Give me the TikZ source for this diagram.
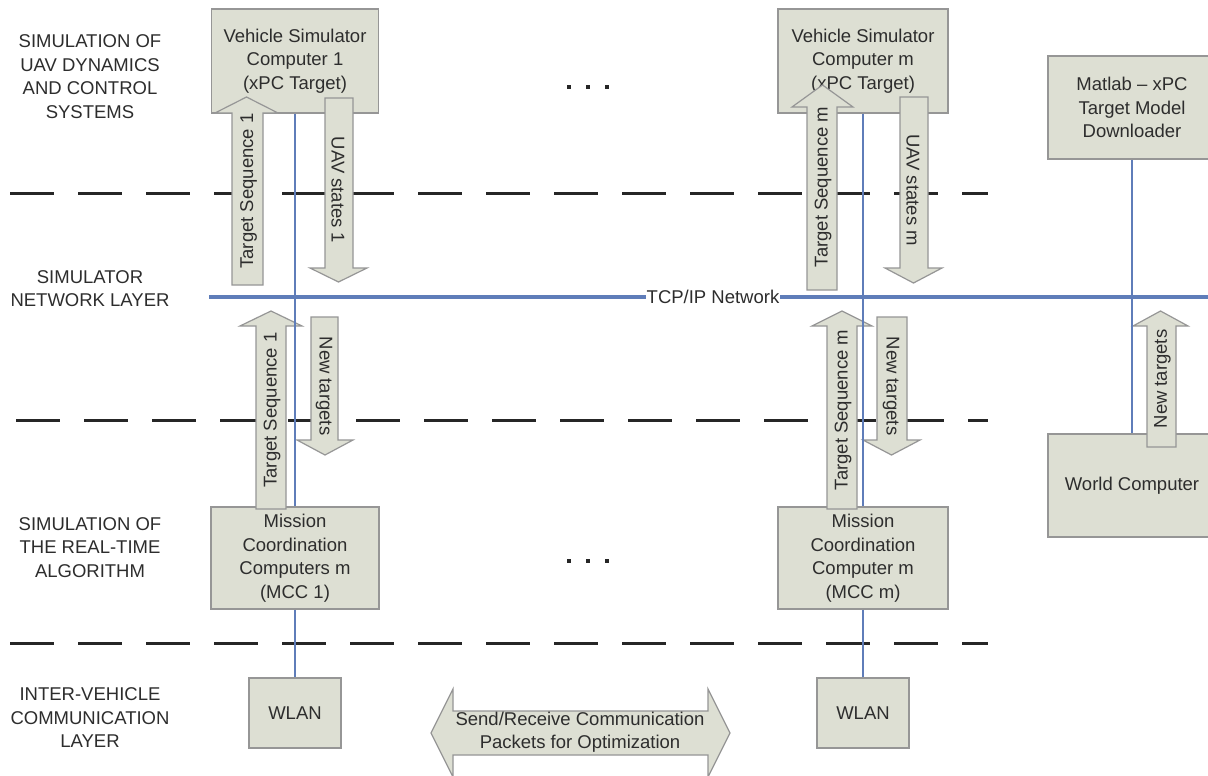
\documentclass[tikz,border=0pt]{standalone}
\usepackage{fontspec}
\setmainfont{Liberation Sans}
\definecolor{boxfill}{RGB}{221,223,211}
\definecolor{boxline}{RGB}{150,150,150}
\definecolor{netblue}{RGB}{95,125,185}
\definecolor{txt}{RGB}{45,45,45}
\newcommand{\blkarrow}[7]{\draw[blk] (#1,#5) -- (#1,#6) -- (#3,#6) -- ({(#3+#4)/2},#7) -- (#4,#6) -- (#2,#6) -- (#2,#5) -- cycle;}
\begin{document}
\begin{tikzpicture}[x=1pt,y=-1pt,
  font=\fontsize{18.5}{23.5}\selectfont, text=txt,
  box/.style={draw=boxline, fill=boxfill, line width=1.2pt, align=center, inner sep=0pt},
  blk/.style={draw=boxline, fill=boxfill, line width=1.2pt},
  layer/.style={align=center, inner sep=0pt},
  sepline/.style={line width=3pt, dash pattern=on 44pt off 24pt, draw=black!85},
  net/.style={draw=netblue, line width=2.5pt},
  arrtext/.style={inner sep=0pt},
  dot/.style={fill=black!85}]
\clip (0,0) rectangle (1208,776);
\fill[white] (0,0) rectangle (1208,776);

% layer separators
\coordinate (s1a) at (10,193);  \coordinate (s1b) at (988,193);
\coordinate (s2a) at (16,420);  \coordinate (s2b) at (988,420);
\coordinate (s3a) at (10,643);  \coordinate (s3b) at (988,643);
\draw[sepline] (s1a) -- (s1b);
\draw[sepline] (s2a) -- (s2b);
\draw[sepline] (s3a) -- (s3b);

% layer labels
\node[layer] (lab1) at (90,76.5) {SIMULATION OF\\UAV DYNAMICS\\AND CONTROL\\SYSTEMS};
\node[layer] (lab2) at (90,288.5) {SIMULATOR\\NETWORK LAYER};
\node[layer] (lab3) at (90,547.5) {SIMULATION OF\\THE REAL-TIME\\ALGORITHM};
\node[layer] (lab4) at (90,718) {INTER-VEHICLE\\COMMUNICATION\\LAYER};

% boxes
\node[box, minimum width=167pt, minimum height=104pt] (vs1) at (295,61) {Vehicle Simulator\\Computer 1\\(xPC Target)};
\node[box, minimum width=170pt, minimum height=104pt] (vsm) at (863,61) {Vehicle Simulator\\Computer m\\(xPC Target)};
\node[box, minimum width=168pt, minimum height=103pt] (matlab) at (1132,107.5) {Matlab -- xPC\\Target Model\\Downloader};
\node[box, minimum width=168pt, minimum height=103pt] (world) at (1132,485.5) {World Computer};
\node[box, minimum width=168pt, minimum height=102pt] (mcc1) at (295,558) {Mission\\Coordination\\Computers m\\(MCC 1)};
\node[box, minimum width=170pt, minimum height=102pt] (mccm) at (863,558) {Mission\\Coordination\\Computer m\\(MCC m)};
\node[box, minimum width=92pt, minimum height=70pt] (wlan1) at (295,713) {WLAN};
\node[box, minimum width=92pt, minimum height=70pt] (wlanm) at (863,713) {WLAN};

% dots
\foreach \xx in {569,588,607} {
  \fill[dot] (\xx-2,85) rectangle (\xx+2,89);
  \fill[dot] (\xx-2,559) rectangle (\xx+2,563);
}

% block arrows
\blkarrow{232}{263}{215}{278}{285}{113}{97}
\blkarrow{325}{353}{310}{367}{98}{268}{282}
\blkarrow{256}{286}{240}{302}{509}{326}{311}
\blkarrow{311}{338}{297}{353}{317}{440}{455}
\blkarrow{807}{837}{792}{853}{290}{107}{85}
\blkarrow{900}{928}{885}{942}{97}{268}{283}
\blkarrow{827}{857}{812}{872}{509}{326}{311}
\blkarrow{877}{907}{863}{920}{317}{440}{455}
\blkarrow{1147}{1176}{1133}{1188}{447}{326}{311}
\draw[blk] (431,733) -- (453,689) -- (453,711) -- (708,711) -- (708,689) -- (730,733)
  -- (708,777) -- (708,755) -- (453,755) -- (453,777) -- cycle;

% arrow texts
\node[arrtext, rotate=90] (ts1a) at (248.5,191) {Target Sequence 1};
\node[arrtext, rotate=-90] (uav1) at (338,190) {UAV states 1};
\node[arrtext, rotate=90] (ts1b) at (272,410) {Target Sequence 1};
\node[arrtext, rotate=-90] (nt1) at (324,386) {New targets};
\node[arrtext, rotate=90] (tsma) at (823,187) {Target Sequence m};
\node[arrtext, rotate=-90] (uavm) at (913,190) {UAV states m};
\node[arrtext, rotate=90] (tsmb) at (843,410) {Target Sequence m};
\node[arrtext, rotate=-90] (ntm) at (891,386) {New targets};
\node[arrtext, rotate=90] (ntw) at (1162.5,379) {New targets};
\node[arrtext, align=center] (comm) at (580,732) {Send/Receive Communication\\Packets for Optimization};

% network lines
\draw[net] (vs1.south) -- (mcc1.north);
\draw[net] (vsm.south) -- (mccm.north);
\draw[net] (mcc1.south) -- (wlan1.north);
\draw[net] (mccm.south) -- (wlanm.north);
\draw[net] (matlab.south) -- (world.north);
\coordinate (tcpL) at (209,297);
\coordinate (tcpR) at (1210,297);
\draw[net, line width=4pt] (tcpL) -- (tcpR);
\node[fill=white, inner xsep=1pt, inner ysep=1pt] (tcp) at (713,297) {TCP/IP Network};
\end{tikzpicture}
\end{document}
